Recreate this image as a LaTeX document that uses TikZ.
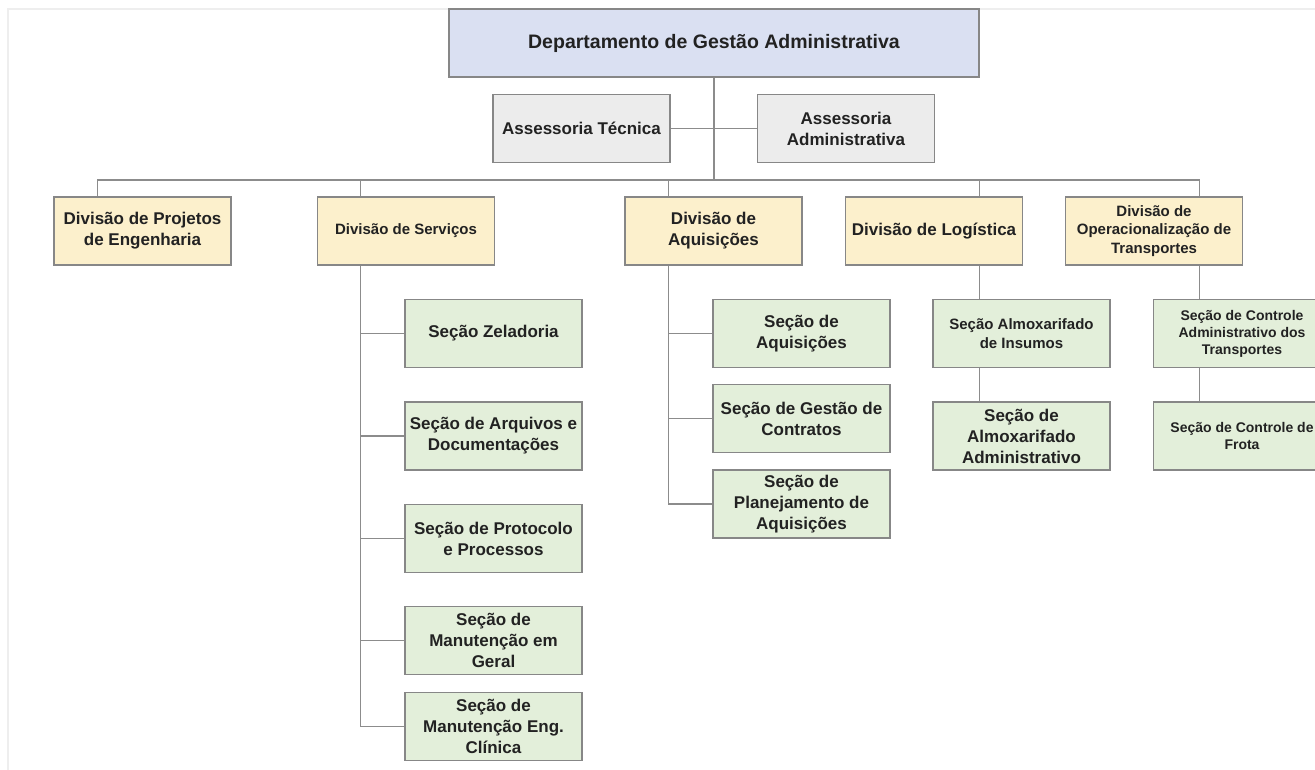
\documentclass[tikz,border=0pt]{standalone}
\usepackage{fontspec}
\setmainfont{Liberation Sans}
\definecolor{deptblue}{RGB}{218,224,242}
\definecolor{assgray}{RGB}{236,236,236}
\definecolor{divcream}{RGB}{252,240,204}
\definecolor{secgreen}{RGB}{227,239,218}
\definecolor{edgegray}{RGB}{135,135,135}
\definecolor{linegray}{RGB}{140,140,140}
\definecolor{framegray}{RGB}{238,238,238}
\definecolor{txt}{RGB}{34,34,34}
\tikzset{
  box/.style={draw=edgegray, line width=1.3pt, align=center, inner sep=0pt, text=txt,
    minimum width=177pt, minimum height=68pt, font=\bfseries\fontsize{17}{21}\selectfont},
  dept/.style={box, fill=deptblue, minimum width=530pt, font=\bfseries\fontsize{19.5}{23}\selectfont},
  assess/.style={box, fill=assgray},
  div/.style={box, fill=divcream},
  sec/.style={box, fill=secgreen},
  small/.style={font=\bfseries\fontsize{15}{18.5}\selectfont},
  tiny/.style={font=\bfseries\fontsize{14}{17}\selectfont},
  link/.style={draw=linegray, line width=1.2pt},
}
\begin{document}
\begin{tikzpicture}[x=1pt, y=-1pt]
\useasboundingbox (0,0) rectangle (1315,770);
\clip (0,0) rectangle (1315,770);
% page frame
\draw[framegray, line width=2pt] (8,770) -- (8,9) -- (1315,9);

% Top level
\node[dept] (dept) at (714,43) {Departamento de Gestão Administrativa};
\node[assess] (atec) at (581.5,128.5) {Assessoria Técnica};
\node[assess] (aadmin) at (846,128.5) {Assessoria\\Administrativa};
\coordinate (bus) at (714,180);
\draw[link] (dept) -- (bus);
\draw[link] (atec) -- (aadmin);

% Divisions
\node[div] (proj) at (142.5,231) {Divisão de Projetos\\de Engenharia};
\node[div, small] (serv) at (406,231) {Divisão de Serviços};
\node[div] (aqui) at (713.5,231) {Divisão de\\Aquisições};
\node[div] (logi) at (934,231) {Divisão de Logística};
\node[div, small] (oper) at (1154,231) {Divisão de\\Operacionalização de\\Transportes};
\coordinate (proj-c) at ([xshift=44pt]proj.north west);
\coordinate (serv-c) at ([xshift=44pt]serv.north west);
\coordinate (aqui-c) at ([xshift=44pt]aqui.north west);
\coordinate (logi-c) at ([xshift=-44pt]logi.north east);
\coordinate (oper-c) at ([xshift=-44pt]oper.north east);
\draw[link] (proj-c) |- (bus) -| (oper-c);
\foreach \d in {serv,aqui,logi}
  \draw[link] (\d-c) -- (\d-c |- bus);

% Secoes de servicos
\node[sec] (zel) at (493.5,333.5) {Seção Zeladoria};
\node[sec] (arq) at (493.5,436) {Seção de Arquivos e\\Documentações};
\node[sec] (prot) at (493.5,538.5) {Seção de Protocolo\\e Processos};
\node[sec] (mger) at (493.5,640.5) {Seção de\\Manutenção em\\Geral};
\node[sec] (mcli) at (493.5,726.5) {Seção de\\Manutenção Eng.\\Clínica};
\draw[link] (serv.south -| serv-c) |- (mcli.west);
\foreach \s in {zel,arq,prot,mger}
  \draw[link] (\s.west) -- ++(-44,0);

% Secoes de aquisicoes
\node[sec] (saq) at (801.5,333.5) {Seção de\\Aquisições};
\node[sec] (sgc) at (801.5,418.5) {Seção de Gestão de\\Contratos};
\node[sec] (spl) at (801.5,504) {Seção de\\Planejamento de\\Aquisições};
\draw[link] (aqui.south -| aqui-c) |- (spl.west);
\foreach \s in {saq,sgc}
  \draw[link] (\s.west) -- ++(-44,0);

% Secoes de logistica
\node[sec, small] (ains) at (1021.5,333.5) {Seção Almoxarifado\\de Insumos};
\node[sec] (aadm) at (1021.5,436) {Seção de\\Almoxarifado\\Administrativo};
\draw[link] (logi.south -| logi-c) -- (ains.north -| logi-c);
\draw[link] (ains.south -| logi-c) -- (aadm.north -| logi-c);

% Secoes de transportes
\node[sec, tiny] (tctl) at (1242,333.5) {Seção de Controle\\Administrativo dos\\Transportes};
\node[sec, tiny] (tfro) at (1242,436) {Seção de Controle de\\Frota};
\draw[link] (oper.south -| oper-c) -- (tctl.north -| oper-c);
\draw[link] (tctl.south -| oper-c) -- (tfro.north -| oper-c);
\end{tikzpicture}
\end{document}
